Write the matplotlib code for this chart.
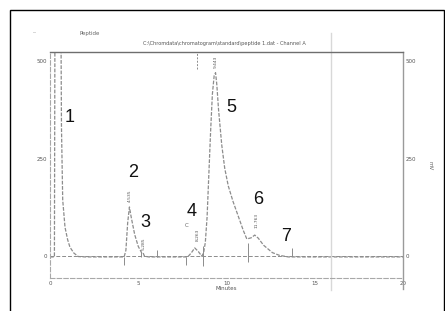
import matplotlib.pyplot as plt
from matplotlib.patches import Rectangle

# chromatogram trace (minutes, mV)
time_min = [0.0, 0.25, 0.28, 0.3, 0.6, 0.62, 0.65, 0.72, 0.85, 1.0, 1.13, 1.35, 1.6,
            2.0, 3.0, 4.2, 4.3, 4.4, 4.5, 4.6, 4.8, 5.0, 5.2, 5.27, 5.35, 5.6, 6.0,
            7.0, 7.8, 8.0, 8.2, 8.4, 8.6, 8.7, 8.8, 8.9, 9.0, 9.1, 9.2, 9.3, 9.38,
            9.45, 9.55, 9.73, 9.9, 10.1, 10.37, 10.7, 10.95, 11.15, 11.4, 11.6, 11.8,
            12.1, 12.6, 13.0, 13.5, 14.0, 16.0, 18.0, 20.0]
signal_mv = [-2, -2, 600, 600, 600, 600, 330, 144, 74, 42, 23, 8, -1,
             -2, -2, -2, 15, 85, 126, 100, 55, 25, 8, 9, 0, -2, -2,
             -2, -2, 8, 21, 12, 0, 8, 35, 100, 210, 320, 415, 462, 470,
             440, 375, 285, 225, 180, 140, 98, 66, 44, 47, 54, 46,
             28, 9, 2, -2, -2, -2, -2, -2]

# integration marks (minutes, mV from / to)
mark_t = [4.2, 5.15, 6.06, 7.7, 8.67, 11.2, 13.7, 15.9]
mark_lo = [-23, -3, -3, -23, -25, -15, 0, -2]
mark_hi = [-3, 10, 15, -3, 25, 33, 20, 20]

# peak numbers and retention-time labels
peak_numbers = ["1", "2", "3", "4", "5", "6", "7"]
number_t = [1.1, 4.7, 5.4, 8.0, 10.25, 11.8, 13.4]
number_mv = [354, 215, 87, 115, 382, 144, 51]
rt_labels = ["4.535", "5.285", "8.263", "9.443", "11.763"]
rt_t = [4.55, 5.28, 8.35, 9.38, 11.7]
rt_mv = [154, 31, 54, 497, 92]

y_ticks = [0, 250, 500]
x_ticks = [0, 5, 10, 15, 20]

W, H = 445, 311
fig = plt.figure(figsize=(W / 100, H / 100), dpi=100)
fig.patches.append(Rectangle((10 / W, -0.1), 434 / W, 1.1 - 10 / H, transform=fig.transFigure,
                             fill=False, edgecolor="black", linewidth=1.0))

ax = fig.add_axes([50 / W, 33 / H, 353 / W, 226 / H])
ax.set_xlim(0, 20)
ax.set_ylim(-56, 523)

grey = "#8c8c8c"
ax.plot(time_min, signal_mv, color=grey, linewidth=0.9, linestyle=(0, (3, 1.2)))
ax.axhline(0, color=grey, linewidth=0.7, linestyle=(0, (4, 2)))
ax.vlines(mark_t, mark_lo, mark_hi, color=grey, linewidth=0.7)
ax.vlines([8.35], 480, 523, color=grey, linewidth=0.7, linestyle=(0, (2, 1.5)))
ax.axvline(15.9, ymin=-0.053, ymax=1.084, color="#d8d8d8", linewidth=1.0, clip_on=False)

for lab, t, v in zip(peak_numbers, number_t, number_mv):
    ax.text(t, v, lab, fontsize=13, family="Liberation Sans", ha="center", va="center",
            color="#111111")
for lab, t, v in zip(rt_labels, rt_t, rt_mv):
    ax.text(t, v, lab, fontsize=3.2, rotation=90, ha="center", va="center", color="#555555")
ax.text(7.75, 78, "C", fontsize=4, ha="center", va="center", color="#666666")

for s in ["left", "bottom"]:
    ax.spines[s].set_linestyle((0, (4, 2)))
    ax.spines[s].set_color("#a8a8a8")
    ax.spines[s].set_linewidth(0.8)
ax.spines["top"].set_color("#6e6e6e")
ax.spines["top"].set_linewidth(1.0)
ax.spines["right"].set_color("#9a9a9a")
ax.spines["right"].set_linewidth(1.0)
ax.spines["right"].set_bounds(-85, 523)

ax.set_yticks(y_ticks)
ax.set_yticklabels([str(v) for v in y_ticks])
ax.set_xticks(x_ticks)
ax.set_xticklabels([str(v) for v in x_ticks])
ax.tick_params(axis="both", length=0, labelsize=4, labelcolor="#555555", pad=2,
               right=True, labelright=True)
ax.set_xlabel("Minutes", fontsize=4, color="#555555", labelpad=0)
fig.text(430 / W, 1 - 166 / H, "mV", fontsize=4, rotation=270, ha="center", va="center",
         color="#666666")

fig.text(224 / W, 1 - 44 / H, "C:\\Chromdata\\chromatogram\\standard\\peptide 1.dat - Channel A",
         fontsize=3.6, ha="center", va="center", color="#555555")
fig.text(80 / W, 1 - 33 / H, "Peptide", fontsize=4, ha="left", va="center", color="#666666")
fig.text(33 / W, 1 - 33 / H, "--", fontsize=4, ha="left", va="center", color="#888888")

fig.savefig("out.png", dpi=100)
